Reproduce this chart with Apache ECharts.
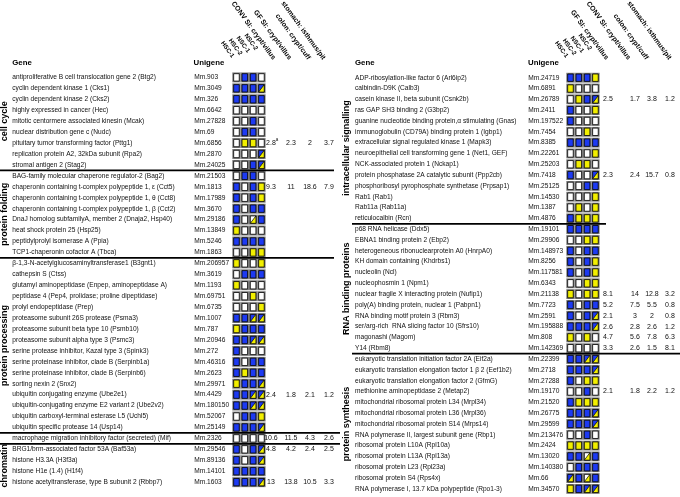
<!DOCTYPE html>
<html><head><meta charset="utf-8">
<script src="https://cdn.jsdelivr.net/npm/echarts@6/dist/echarts.min.js"></script>
<style>html,body{margin:0;padding:0;background:#fff}#c{width:680px;height:497px}</style>
</head><body><div id="c"></div>
<script>
// ---------------- DATA ----------------
const colLabels = ['HSC-1', 'HSC-2', 'NSC-1', 'NSC-2'];
const leftHeaders = ['CONV SI: crypt/villus', 'GF SI: crypt/villus', 'colon: crypt/cuff', 'stomach: isthmus/pit'];
const rightHeaders = ['GF SI: crypt/villus', 'CONV SI: crypt/villus', 'colon: crypt/cuff', 'stomach: isthmus/pit'];

const leftGroupNames = ['cell cycle', 'protein folding', 'protein processing', '', 'chromatin'];
const leftGroupSizes = [9, 8, 16, 1, 4];
const rightGroupNames = ['intracellular signalling', 'RNA binding proteins', 'protein synthesis'];
const rightGroupSizes = [14, 12, 13];

const leftGenes = [
  'antiproliferative B cell translocation gene 2 (Btg2)',
  'cyclin dependent kinase 1 (Cks1)',
  'cyclin dependent kinase 2 (Cks2)',
  'highly expressed in cancer (Hec)',
  'mitotic centormere associated kinesin (Mcak)',
  'nuclear distribution gene c (Nudc)',
  'pituitary tumor transforming factor (Pttg1)',
  'replication protein A2, 32kDa subunit (Rpa2)',
  'stromal antigen 2 (Stag2)',
  'BAG-family molecular chaperone regulator-2 (Bag2)',
  'chaperonin containing t-complex polypeptide 1, \u03b5 (Cct5)',
  'chaperonin containing t-complex polypeptide 1, \u03b8 (Cct8)',
  'chaperonin containing t-complex polypeptide 1, \u03b2 (Cct2)',
  'DnaJ homolog subfamilyA, member 2 (Dnaja2, Hsp40)',
  'heat shock protein 25 (Hsp25)',
  'peptidylprolyl isomerase A (Ppia)',
  'TCP1-chaperonin cofactor A (Tbca)',
  '\u03b2-1,3-N-acetylglucosaminyltransferase1 (B3gnt1)',
  'cathepsin S (Ctss)',
  'glutamyl aminopeptidase (Enpep, aminopeptidase A)',
  'peptidase 4 (Pep4, prolidase; proline dipeptidase)',
  'prolyl endopeptidase (Prep)',
  'proteasome subunit 26S protease (Psma3)',
  'proteasome subunit beta type 10 (Psmb10)',
  'proteasome subunit alpha type 3 (Psmc3)',
  'serine protease inhibitor, Kazal type 3 (Spink3)',
  'serine proteinase inhibitor, clade B (Serpinb1a)',
  'serine proteinase inhibitor, clade B (Serpinb6)',
  'sorting nexin 2 (Snx2)',
  'ubiquitin conjugating enzyme (Ube2e1)',
  'ubiquitin-conjugating enzyme E2 variant 2 (Ube2v2)',
  'ubiquitin carboxyl-terminal esterase L5 (Uchl5)',
  'ubiquitin specific protease 14 (Usp14)',
  'macrophage migration inhibitory factor (secreted) (Mif)',
  'BRG1/brm-associated factor 53A (Baf53a)',
  'histone H3.3A (H3f3a)',
  'histone H1e (1.4) (H1f4)',
  'histone acetyltransferase, type B subunit 2 (Rbbp7)'
];
const leftUnigene = ['Mm.903','Mm.3049','Mm.326','Mm.6642','Mm.27828','Mm.69','Mm.6856','Mm.2870','Mm.24025',
  'Mm.21503','Mm.1813','Mm.17989','Mm.3670','Mm.29186','Mm.13849','Mm.5246','Mm.1863',
  'Mm.206957','Mm.3619','Mm.1193','Mm.69751','Mm.6735','Mm.1007','Mm.787','Mm.20946','Mm.272','Mm.46316',
  'Mm.2623','Mm.29971','Mm.4429','Mm.180150','Mm.52067','Mm.25149','Mm.2326','Mm.29546','Mm.89136','Mm.14101','Mm.1603'];
// W white, B blue, Y yellow, D blue/yellow split, E white/yellow split
const leftCells = ['WBBW','BBBD','BBBB','WWWW','WWBW','WBBW','WYYW','WWWD','WWBD',
  'WBBW','BWBY','BWBY','BWBB','BWEB','YWWW','BBBB','WWYY',
  'YWWY','WBBB','YWWW','WWYW','WWWY','BBDD','YBBB','BBDD','BWWW','BWBB',
  'BYBB','YBBD','BBDD','BBDD','WBBY','BBBD','WWWW','BWBD','BWBD','BBBB','BBBD'];
const leftValueRows = [6, 10, 29, 33, 34, 37];
const leftValues = [[2.8, 2.3, 2, 3.7], [9.3, 11, 18.6, 7.9], [2.4, 1.8, 2.1, 1.2],
  [10.6, 11.5, 4.3, 2.6], [4.8, 4.2, 2.4, 2.5], [13, 13.8, 10.5, 3.3]];
const leftFootnotes = [[6, 0, 'a']];

const rightGenes = [
  'ADP-ribosylation-like factor 6 (Arl6ip2)',
  'calbindin-D9K (Calb3)',
  'casein kinase II, beta subunit (Csnk2b)',
  'ras GAP SH3 binding 2 (G3bp2)',
  'guanine nucleotide binding protein,\u03b1 stimulating (Gnas)',
  'immunoglobulin (CD79A) binding protein 1 (Igbp1)',
  'extracellular signal regulated kinase 1 (Mapk3)',
  'neuroepithelial cell transforming gene 1 (Net1, GEF)',
  'NCK-associated protein 1 (Nckap1)',
  'protein phosphatase 2A catalytic subunit (Ppp2cb)',
  'phosphoribosyl pyrophosphate synthetase (Prpsap1)',
  'Rab1 (Rab1)',
  'Rab11a (Rab11a)',
  'reticulocalbin (Rcn)',
  'p68 RNA helicase (Ddx5)',
  'EBNA1 binding protein 2 (Ebp2)',
  'heterogeneous ribonuclearprotein A0 (HnrpA0)',
  'KH domain containing (Khdrbs1)',
  'nucleolin (Ncl)',
  'nucleophosmin 1 (Npm1)',
  'nuclear fragile X interacting protein (Nufip1)',
  'poly(A) binding protein, nuclear 1 (Pabpn1)',
  'RNA binding motif protein 3 (Rbm3)',
  'ser/arg-rich  RNA slicing factor 10 (Sfrs10)',
  'magonashi (Magom)',
  'Y14 (Rbm8)',
  'eukaryotic translation initiation factor 2A (Eif2a)',
  'eukaryotic translation elongation factor 1 \u03b2 2 (Eef1b2)',
  'eukaryotic translation elongation factor 2 (GfmG)',
  'methionine aminopeptidase 2 (Metap2)',
  'mitochondrial ribosomal protein L34 (Mrpl34)',
  'mitochondrial ribosomal protein L36 (Mrpl36)',
  'mitochondrial ribosomal protein S14 (Mrps14)',
  'RNA polymerase II, largest subunit gene (Rbp1)',
  'ribosomal protein L10A (Rpl10a)',
  'ribosomal protein L13A (Rpl13a)',
  'ribosomal protein L23 (Rpl23a)',
  'ribosomal protein S4 (Rps4x)',
  'RNA polymerase I, 13.7 kDa polypeptide (Rpo1-3)'
];
const rightUnigene = ['Mm.24719','Mm.6891','Mm.26789','Mm.2411','Mm.197522','Mm.7454','Mm.8385','Mm.22261',
  'Mm.25203','Mm.7418','Mm.25125','Mm.14530','Mm.1387','Mm.4876',
  'Mm.19101','Mm.29906','Mm.148973','Mm.8256','Mm.117581','Mm.6343','Mm.21138','Mm.7723','Mm.2591',
  'Mm.195888','Mm.808','Mm.142369',
  'Mm.22399','Mm.2718','Mm.27288','Mm.19170','Mm.21520','Mm.26775','Mm.29599','Mm.213476','Mm.2424',
  'Mm.13020','Mm.140380','Mm.66','Mm.34570'];
const rightCells = ['BBBY','YWWW','WYBD','BWWY','BWWW','WWYW','BBBB','WWWY','WYYW','BWWD','WWBB','WWWY','WYWY','BYYY',
  'BBBB','WWYY','BWBB','BWBY','BWBY','WWYY','YWYY','BWBB','BWBD','BBBD','YWYW','WWWW',
  'BBDD','BBBD','BWYY','WWBW','BYYY','BBBD','BBBD','WWBW','YYYY','BBEB','WBBB','DBEB','YBDD'];
const rightValueRows = [2, 9, 20, 21, 22, 23, 24, 25, 29];
const rightValues = [[2.5, 1.7, 3.8, 1.2], [2.3, 2.4, 15.7, 0.8], [8.1, 14, 12.8, 3.2], [5.2, 7.5, 5.5, 0.8],
  [2.1, 3, 2, 0.8], [2.6, 2.8, 2.6, 1.2], [4.7, 5.6, 7.8, 6.3], [3.3, 2.6, 1.5, 8.1], [2.1, 1.8, 2.2, 1.2]];
const rightFootnotes = [];

// ---------------- STYLE / LAYOUT ----------------
const FONT = 'Liberation Sans, Arial, Helvetica, sans-serif';
const BLUE = '#1d3af2', YELLOW = '#f2ef00', GRAY = '#7d7d7d';
const panels = [
  { genes: leftGenes, uni: leftUnigene, cells: leftCells, vRows: leftValueRows, vals: leftValues, foot: leftFootnotes,
    gNames: leftGroupNames, gSizes: leftGroupSizes, headers: leftHeaders,
    grid: { left: 232.3, top: 71.93, width: 33.3, height: 415.7 },
    geneX: 12.3, uniX: 194.3, numDX: [9.5, 29.5, 48.5, 67.5], hdrX: [274, 290, 309, 324],
    groupX: 4.5, lineX: [[0, 334], [0, 334], [0, 340], [0, 340]], headerGeneX: 12.3, headerUniX: 193.5 },
  { genes: rightGenes, uni: rightUnigene, cells: rightCells, vRows: rightValueRows, vals: rightValues, foot: rightFootnotes,
    gNames: rightGroupNames, gSizes: rightGroupSizes, headers: rightHeaders,
    grid: { left: 566.3, top: 72.29, width: 33.3, height: 422.0 },
    geneX: 355, uniX: 528.3, numDX: [12.5, 39.5, 56.5, 74.5], hdrX: [607, 629, 647, 670],
    groupX: 346.5, lineX: [[352, 606], [352, 680]], headerGeneX: 355, headerUniX: 528 }
];
// staggered column-label anchors (relative to column centre)
const colLabDX = [-3.5, -4, -4.5, -5];
const colLabY = [57, 54.5, 52, 49.5];

function boundaries(sizes) {
  const b = []; let s = 0;
  for (let i = 0; i < sizes.length - 1; i++) { s += sizes[i]; b.push(s); }
  return b;
}

const grids = [], xAxes = [], yAxes = [], series = [], graphics = [];
panels.forEach((P, pi) => {
  grids.push(P.grid);
  xAxes.push({ gridIndex: pi, type: 'category', data: colLabels, position: 'top',
    axisLine: { show: false }, axisTick: { show: false }, splitLine: { show: false },
    axisLabel: { show: false } });
  yAxes.push({ gridIndex: pi, type: 'category', data: P.uni, inverse: true, position: 'left',
    axisLine: { show: false }, axisTick: { show: false }, splitLine: { show: false },
    axisLabel: { interval: 0, align: 'left', margin: P.grid.left - P.uniX, fontSize: 6.6, color: '#111', fontFamily: FONT } });
  yAxes.push({ gridIndex: pi, type: 'category', data: P.genes, inverse: true, position: 'left',
    axisLine: { show: false }, axisTick: { show: false }, splitLine: { show: false },
    axisLabel: { interval: 0, align: 'left', margin: P.grid.left - P.geneX, fontSize: 6.6, color: '#111', fontFamily: FONT } });
  const yi = pi * 2;
  // cells and values
  series.push({
    type: 'custom', xAxisIndex: pi, yAxisIndex: yi, silent: true, animation: false,
    data: P.cells.map((s, i) => [0, i]),
    renderItem: function (params, api) {
      const r = api.value(1);
      const code = P.cells[r];
      const sz = api.size([1, 1]);
      const cw = sz[0], ch = sz[1];
      const ch_ = [];
      for (let c = 0; c < 4; c++) {
        const p = api.coord([c, r]);
        ch_.push({ type: 'rect', shape: { x: p[0] - cw / 2, y: p[1] - ch / 2 + 0.5, width: cw, height: ch - 1 }, style: { fill: GRAY } });
        const w = 5.6, h = 7.4, x0 = p[0] - w / 2, y0 = p[1] - h / 2;
        const k = code[c];
        const fill = (k === 'B' || k === 'D') ? BLUE : (k === 'Y' ? YELLOW : '#ffffff');
        ch_.push({ type: 'rect', shape: { x: x0, y: y0, width: w, height: h }, style: { fill: fill, stroke: '#000', lineWidth: 0.8 } });
        if (k === 'D' || k === 'E') {
          ch_.push({ type: 'polygon', shape: { points: [[x0 + w, y0], [x0 + w, y0 + h], [x0, y0 + h]] },
            style: { fill: YELLOW, stroke: '#000', lineWidth: 0.7 } });
        }
      }
      const vi = P.vRows.indexOf(r);
      if (vi >= 0) {
        const base = api.coord([3, r]);
        P.vals[vi].forEach((v, j) => {
          ch_.push({ type: 'text', x: base[0] + P.numDX[j], y: base[1],
            style: { text: String(v), fill: '#111', fontSize: 7, fontFamily: FONT, align: 'center', verticalAlign: 'middle' } });
        });
        P.foot.forEach(f => {
          if (f[0] === r) ch_.push({ type: 'text', x: base[0] + P.numDX[f[1]] + 6, y: base[1] - 3,
            style: { text: f[2], fill: '#111', fontSize: 4.5, fontFamily: FONT, align: 'center', verticalAlign: 'middle' } });
        });
      }
      return { type: 'group', children: ch_ };
    }
  });
  // column labels (rotated, staggered) placed from the column axis
  series.push({
    type: 'custom', xAxisIndex: pi, yAxisIndex: yi, silent: true, animation: false, clip: false,
    data: colLabels.map((l, c) => [c, 0]),
    renderItem: function (params, api) {
      const c = api.value(0);
      const x = api.coord([c, 0])[0];
      return { type: 'text', x: x + colLabDX[c], y: colLabY[c], rotation: -54 * Math.PI / 180,
        style: { text: colLabels[c], fill: '#000', fontSize: 6.2, fontWeight: 'bold', fontFamily: FONT, align: 'right', verticalAlign: 'middle' } };
    }
  });
  // separator lines
  const bnd = boundaries(P.gSizes);
  series.push({
    type: 'custom', xAxisIndex: pi, yAxisIndex: yi, silent: true, animation: false, clip: false,
    data: bnd.map((b, i) => [0, b, i]),
    renderItem: function (params, api) {
      const b = api.value(1), i = api.value(2);
      const y = (api.coord([0, b])[1] + api.coord([0, b - 1])[1]) / 2;
      const lx = P.lineX[i];
      return { type: 'line', shape: { x1: lx[0], y1: y, x2: lx[1], y2: y }, style: { stroke: '#000', lineWidth: 1.8 } };
    }
  });
  // group labels
  const starts = []; let s0 = 0; P.gSizes.forEach(sz => { starts.push(s0); s0 += sz; });
  series.push({
    type: 'custom', xAxisIndex: pi, yAxisIndex: yi, silent: true, animation: false, clip: false,
    data: P.gNames.map((n, i) => [0, starts[i], P.gSizes[i], i]),
    renderItem: function (params, api) {
      const st = api.value(1), n = api.value(2), i = api.value(3);
      const y = (api.coord([0, st])[1] + api.coord([0, st + n - 1])[1]) / 2;
      return { type: 'text', x: P.groupX, y: y, rotation: Math.PI / 2,
        style: { text: P.gNames[i], fill: '#000', fontSize: 9, fontWeight: 'bold', fontFamily: FONT, align: 'center', verticalAlign: 'middle' } };
    }
  });
  // header texts
  graphics.push({ type: 'text', x: P.headerGeneX, y: 63, style: { text: 'Gene', fill: '#000', fontSize: 7.8, fontWeight: 'bold', fontFamily: FONT, align: 'left', verticalAlign: 'middle' } });
  graphics.push({ type: 'text', x: P.headerUniX, y: 63, style: { text: 'Unigene', fill: '#000', fontSize: 7.8, fontWeight: 'bold', fontFamily: FONT, align: 'left', verticalAlign: 'middle' } });
  P.headers.forEach((h, j) => {
    graphics.push({ type: 'text', x: P.hdrX[j], y: 59, rotation: -54 * Math.PI / 180,
      style: { text: h, fill: '#000', fontSize: 7, fontWeight: 'bold', fontFamily: FONT, align: 'right', verticalAlign: 'middle' } });
  });
});

const chart = echarts.init(document.getElementById('c'), null, { renderer: 'canvas' });
chart.setOption({
  animation: false,
  backgroundColor: '#fff',
  grid: grids, xAxis: xAxes, yAxis: yAxes, series: series, graphic: graphics
});
</script></body></html>
